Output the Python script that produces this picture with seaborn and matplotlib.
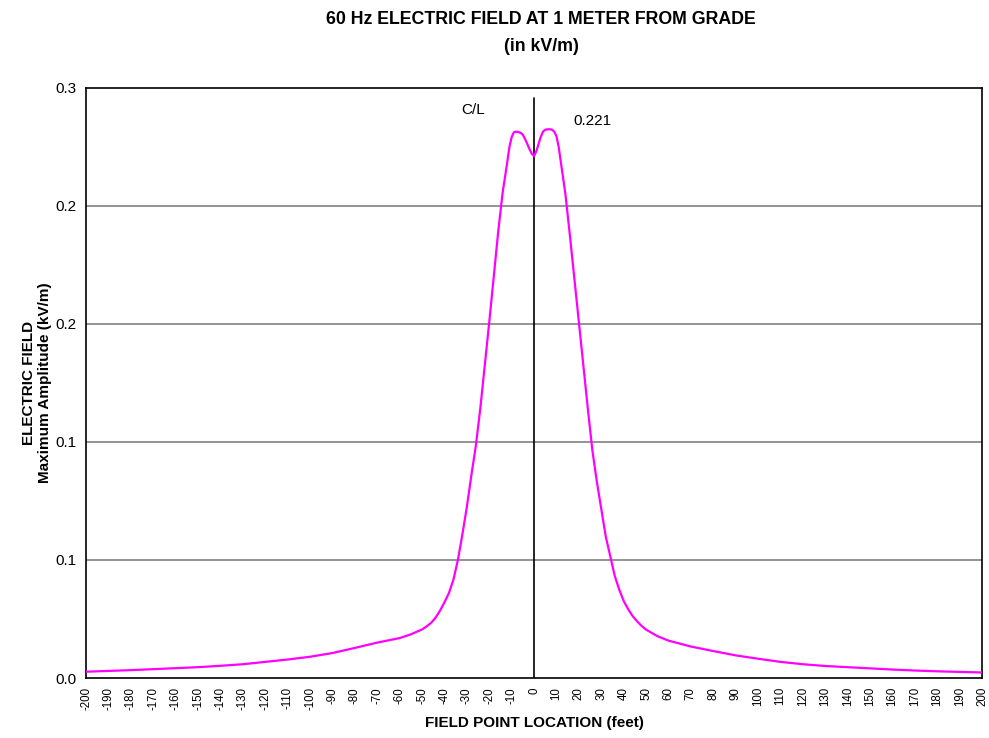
import pandas as pd
import matplotlib
matplotlib.use("Agg")
import matplotlib.pyplot as plt
import seaborn as sns

# field point location (feet) and electric field (kV/m)
location_ft = [-200, -190, -180, -170, -160, -150, -140, -130, -120, -110,
               -100, -90, -80, -70, -60, -55, -50, -48, -46, -44,
               -42, -40, -38, -36, -34, -32, -30, -28, -26, -24,
               -22, -20, -18, -16, -14, -12, -11, -10, -9, -8,
               -7, -6, -5, -4, -3, -2, -1, 0, 1, 2,
               3, 4, 5, 6, 7, 8, 9, 10, 11, 12,
               14, 16, 18, 20, 22, 24, 26, 28, 30, 32,
               34, 36, 38, 40, 42, 44, 46, 48, 50, 55,
               60, 70, 80, 90, 100, 110, 120, 130, 140, 150,
               160, 170, 180, 190, 200]
field_kvm = [0.0032, 0.0036, 0.0040, 0.0045, 0.0050, 0.0055, 0.0062, 0.0070, 0.0082, 0.0094,
             0.0108, 0.0127, 0.0153, 0.0180, 0.0203, 0.0222, 0.0247, 0.0262, 0.0280, 0.0306,
             0.0342, 0.0385, 0.0432, 0.0500, 0.0600, 0.0730, 0.0870, 0.1030, 0.1180, 0.1370,
             0.1590, 0.1810, 0.2040, 0.2270, 0.2470, 0.2620, 0.2700, 0.2750, 0.2775, 0.2778,
             0.2776, 0.2772, 0.2762, 0.2740, 0.2715, 0.2688, 0.2665, 0.2654, 0.2678, 0.2715,
             0.2752, 0.2778, 0.2788, 0.2790, 0.2790, 0.2788, 0.2778, 0.2755, 0.2700, 0.2620,
             0.2460, 0.2250, 0.2030, 0.1810, 0.1590, 0.1370, 0.1160, 0.1000, 0.0860, 0.0720,
             0.0620, 0.0520, 0.0450, 0.0392, 0.0350, 0.0315, 0.0288, 0.0265, 0.0246, 0.0213,
             0.0190, 0.0160, 0.0137, 0.0115, 0.0098, 0.0082, 0.0070, 0.0061, 0.0055, 0.0049,
             0.0043, 0.0038, 0.0034, 0.0031, 0.0028]

y_ticks = [0.0, 0.06, 0.12, 0.18, 0.24, 0.30]
y_tick_labels = ["0.0", "0.1", "0.1", "0.2", "0.2", "0.3"]
x_ticks = list(range(-200, 201, 10))

df = pd.DataFrame({"location": location_ft, "field": field_kvm})

sns.set_style("white")
plt.rcParams["font.family"] = ["Liberation Sans", "DejaVu Sans"]
plt.rcParams["text.color"] = "black"
plt.rcParams["axes.labelcolor"] = "black"
plt.rcParams["xtick.color"] = "black"
plt.rcParams["ytick.color"] = "black"

fig = plt.figure(figsize=(9.89, 7.38), dpi=100)
ax = fig.add_axes([0.087, 0.0813, 0.906, 0.7995])

for yv in y_ticks[1:-1]:
    ax.axhline(yv, color="#808080", lw=1.2, zorder=1)
ax.axvline(0, ymin=0, ymax=0.983, color="black", lw=1.2, zorder=2)

sns.lineplot(data=df, x="location", y="field", color="#FF00FF", lw=1.6, ax=ax, zorder=3)

ax.set_xlim(-200, 200)
ax.set_ylim(0, 0.3)
ax.set_xticks(x_ticks)
ax.set_xticklabels([str(v) for v in x_ticks], rotation=90, fontsize=8.3)
ax.set_yticks(y_ticks)
ax.set_yticklabels(y_tick_labels, fontsize=11)
ax.tick_params(axis="x", direction="inout", length=9, width=1, pad=2)
ax.tick_params(axis="y", direction="out", length=4, width=1, pad=3)
for s in ax.spines.values():
    s.set_color("black")
    s.set_linewidth(1.2)

ax.text(-27, 0.289, "C/L", ha="center", va="center", fontsize=11)
ax.text(26, 0.283, "0.221", ha="center", va="center", fontsize=11)

ax.set_xlabel("FIELD POINT LOCATION (feet)", fontsize=11, fontweight="bold", labelpad=4)
ax.set_ylabel("ELECTRIC FIELD\nMaximum Amplitude (kV/m)", fontsize=11, fontweight="bold")
ax.yaxis.set_label_coords(-0.038, 0.5)
fig.suptitle("60 Hz ELECTRIC FIELD AT 1 METER FROM GRADE\n(in kV/m)", x=0.547, y=0.985,
             fontsize=12.8, fontweight="bold", va="top", linespacing=1.75)

fig.savefig("out.png", dpi=100)
